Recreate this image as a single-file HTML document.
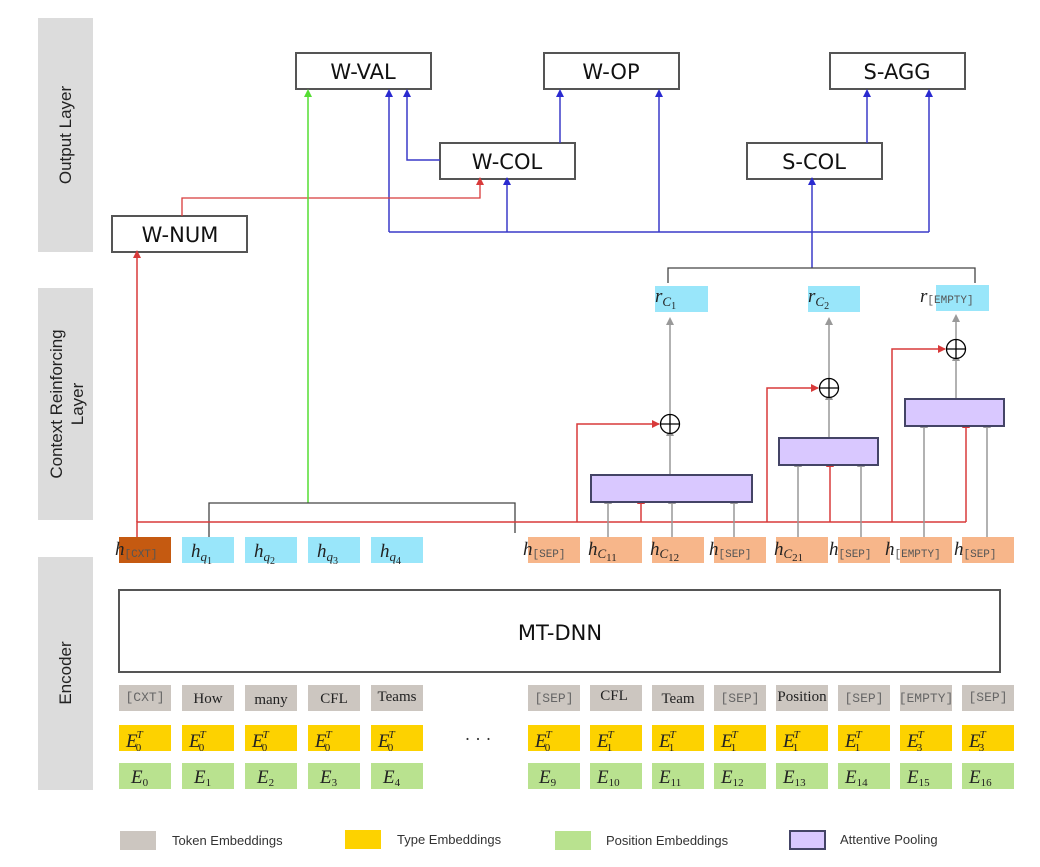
<!DOCTYPE html>
<html><head><meta charset="utf-8"><style>
html,body{margin:0;padding:0;background:#fff;}
svg{display:block;}
.box{fill:#fff;stroke:#555;stroke-width:2;}
.bt{font-family:"DejaVu Sans","Liberation Sans",sans-serif;font-size:21px;fill:#111;text-anchor:middle;}
.m{font-family:"Liberation Serif",serif;font-style:italic;font-size:19px;fill:#222;}
.mono{font-family:"Liberation Mono",monospace;font-size:11px;font-style:normal;fill:#555;}
.tok{font-family:"Liberation Serif",serif;font-size:15px;fill:#222;text-anchor:middle;}
.tokm{font-family:"Liberation Mono",monospace;font-size:13px;fill:#666;text-anchor:middle;}
.lg{font-family:"Liberation Sans",sans-serif;font-size:13px;fill:#333;}
.side{font-family:"Liberation Sans",sans-serif;font-size:17px;fill:#222;text-anchor:middle;}
</style></head><body>
<svg width="1040" height="867" viewBox="0 0 1040 867" xmlns="http://www.w3.org/2000/svg">
<defs>
<marker id="ab" markerWidth="8" markerHeight="8" refX="4" refY="7" markerUnits="userSpaceOnUse"><path d="M0,8 L4,0 L8,8 Z" fill="#2a2ad0"/></marker>
<marker id="ar" markerWidth="8" markerHeight="8" refX="4" refY="7" markerUnits="userSpaceOnUse"><path d="M0,8 L4,0 L8,8 Z" fill="#d83a3a"/></marker>
<marker id="arr" markerWidth="8" markerHeight="8" refX="7" refY="4" markerUnits="userSpaceOnUse"><path d="M0,0 L8,4 L0,8 Z" fill="#d83a3a"/></marker>
<marker id="ag" markerWidth="8" markerHeight="8" refX="4" refY="7" markerUnits="userSpaceOnUse"><path d="M0,8 L4,0 L8,8 Z" fill="#55dd33"/></marker>
<marker id="agr" markerWidth="8" markerHeight="8" refX="4" refY="7" markerUnits="userSpaceOnUse"><path d="M0,8 L4,0 L8,8 Z" fill="#999"/></marker>
</defs>

<rect x="38" y="18" width="55" height="234" fill="#dcdcdc"/>
<rect x="38" y="288" width="55" height="232" fill="#dcdcdc"/>
<rect x="38" y="557" width="55" height="233" fill="#dcdcdc"/>
<text class="side" transform="translate(71,135) rotate(-90)">Output Layer</text>
<text class="side" transform="translate(62,404) rotate(-90)">Context Reinforcing</text>
<text class="side" transform="translate(83,404) rotate(-90)">Layer</text>
<text class="side" transform="translate(71,673) rotate(-90)">Encoder</text>

<rect class="box" x="296" y="53" width="135" height="36"/><text class="bt" x="363" y="79">W-VAL</text>
<rect class="box" x="544" y="53" width="135" height="36"/><text class="bt" x="611" y="79">W-OP</text>
<rect class="box" x="830" y="53" width="135" height="36"/><text class="bt" x="897" y="79">S-AGG</text>
<rect class="box" x="440" y="143" width="135" height="36"/><text class="bt" x="507" y="169">W-COL</text>
<rect class="box" x="747" y="143" width="135" height="36"/><text class="bt" x="814" y="169">S-COL</text>
<rect class="box" x="112" y="216" width="135" height="36"/><text class="bt" x="180" y="242">W-NUM</text>

<g stroke="#3a3ac8" stroke-width="1.5" fill="none">
<path d="M389,232 H929"/>
<path d="M389,232 V96" marker-end="url(#ab)"/>
<path d="M507,232 V184" marker-end="url(#ab)"/>
<path d="M659,232 V96" marker-end="url(#ab)"/>
<path d="M929,232 V96" marker-end="url(#ab)"/>
<path d="M440,160 H407 V96" marker-end="url(#ab)"/>
<path d="M560,143 V96" marker-end="url(#ab)"/>
<path d="M867,143 V96" marker-end="url(#ab)"/>
<path d="M812,268 V184" marker-end="url(#ab)"/>
</g>
<path d="M182,216 V198 H480 V184" stroke="#d83a3a" stroke-width="1.3" fill="none" marker-end="url(#ar)"/>
<path d="M308,503 V96" stroke="#55dd33" stroke-width="1.5" fill="none" marker-end="url(#ag)"/>

<g stroke="#444" stroke-width="1.3" fill="none">
<path d="M668,283 V268 H975 V283"/>
<path d="M209,537 V503 H515 V533"/>
</g>

<g stroke="#d83a3a" stroke-width="1.5" fill="none">
<path d="M137,537 V522 H966"/>
<path d="M137,522 V257" marker-end="url(#ar)"/>
<path d="M577,522 V424 H659" marker-end="url(#arr)"/>
<path d="M767,522 V388 H818" marker-end="url(#arr)"/>
<path d="M892,522 V349 H945" marker-end="url(#arr)"/>
<path d="M641,522 V503" marker-end="url(#ar)"/>
<path d="M830,522 V466" marker-end="url(#ar)"/>
<path d="M966,522 V427" marker-end="url(#ar)"/>
</g>

<g stroke="#999" stroke-width="1.5" fill="none">
<path d="M608,537 V503" marker-end="url(#agr)"/>
<path d="M672,537 V503" marker-end="url(#agr)"/>
<path d="M734,537 V503" marker-end="url(#agr)"/>
<path d="M798,537 V466" marker-end="url(#agr)"/>
<path d="M861,537 V466" marker-end="url(#agr)"/>
<path d="M924,537 V427" marker-end="url(#agr)"/>
<path d="M987,537 V427" marker-end="url(#agr)"/>
<path d="M670,475 V435" marker-end="url(#agr)"/>
<path d="M829,438 V399" marker-end="url(#agr)"/>
<path d="M956,399 V360" marker-end="url(#agr)"/>
<path d="M670,414 V324" marker-end="url(#agr)"/>
<path d="M829,378 V324" marker-end="url(#agr)"/>
<path d="M956,339 V321" marker-end="url(#agr)"/>
</g>

<g fill="#d9c8ff" stroke="#444466" stroke-width="2">
<rect x="591" y="475" width="161" height="27"/>
<rect x="779" y="438" width="99" height="27"/>
<rect x="905" y="399" width="99" height="27"/>
</g>
<g stroke="#000" stroke-width="1.3" fill="#fff">
<circle cx="670" cy="424" r="9.5"/><path d="M660.5,424 H679.5 M670,414.5 V433.5"/>
<circle cx="829" cy="388" r="9.5"/><path d="M819.5,388 H838.5 M829,378.5 V397.5"/>
<circle cx="956" cy="349" r="9.5"/><path d="M946.5,349 H965.5 M956,339.5 V358.5"/>
</g>

<rect x="655" y="286" width="53" height="26" fill="#99e6fa"/>
<rect x="808" y="286" width="52" height="26" fill="#99e6fa"/>
<rect x="936" y="285" width="53" height="26" fill="#99e6fa"/>
<text class="m" x="655" y="302" font-size="16">r<tspan font-size="13" dy="4">C</tspan><tspan font-size="10" dy="3" font-style="normal">1</tspan></text>
<text class="m" x="808" y="302" font-size="16">r<tspan font-size="13" dy="4">C</tspan><tspan font-size="10" dy="3" font-style="normal">2</tspan></text>
<text class="m" x="920" y="302" font-size="16">r<tspan class="mono" dy="1">[EMPTY]</tspan></text>

<rect x="119" y="537" width="52" height="26" fill="#c55a11"/>
<g fill="#99e6fa">
<rect x="182" y="537" width="52" height="26"/><rect x="245" y="537" width="52" height="26"/>
<rect x="308" y="537" width="52" height="26"/><rect x="371" y="537" width="52" height="26"/>
</g>
<g fill="#f7b68a">
<rect x="528" y="537" width="52" height="26"/><rect x="590" y="537" width="52" height="26"/>
<rect x="652" y="537" width="52" height="26"/><rect x="714" y="537" width="52" height="26"/>
<rect x="776" y="537" width="52" height="26"/><rect x="838" y="537" width="52" height="26"/>
<rect x="900" y="537" width="52" height="26"/><rect x="962" y="537" width="52" height="26"/>
</g>
<g class="m" font-size="17">
<text x="115" y="555">h<tspan class="mono" dy="2">[CXT]</tspan></text>
<text x="191" y="557">h<tspan font-size="13" dy="4">q</tspan><tspan font-size="10" dy="3" font-style="normal">1</tspan></text>
<text x="254" y="557">h<tspan font-size="13" dy="4">q</tspan><tspan font-size="10" dy="3" font-style="normal">2</tspan></text>
<text x="317" y="557">h<tspan font-size="13" dy="4">q</tspan><tspan font-size="10" dy="3" font-style="normal">3</tspan></text>
<text x="380" y="557">h<tspan font-size="13" dy="4">q</tspan><tspan font-size="10" dy="3" font-style="normal">4</tspan></text>
<text x="523" y="555">h<tspan class="mono" dy="2">[SEP]</tspan></text>
<text x="588" y="555">h<tspan font-size="13" dy="3">C</tspan><tspan font-size="11" dy="3" font-style="normal">11</tspan></text>
<text x="650" y="555">h<tspan font-size="13" dy="3">C</tspan><tspan font-size="11" dy="3" font-style="normal">12</tspan></text>
<text x="709" y="555">h<tspan class="mono" dy="2">[SEP]</tspan></text>
<text x="774" y="555">h<tspan font-size="13" dy="3">C</tspan><tspan font-size="11" dy="3" font-style="normal">21</tspan></text>
<text x="829" y="555">h<tspan class="mono" dy="2">[SEP]</tspan></text>
<text x="885" y="555">h<tspan class="mono" dy="2">[EMPTY]</tspan></text>
<text x="954" y="555">h<tspan class="mono" dy="2">[SEP]</tspan></text>
</g>

<rect x="119" y="590" width="881" height="82" fill="#fff" stroke="#555" stroke-width="2"/>
<text class="bt" x="560" y="640" font-size="23">MT-DNN</text>

<g fill="#ccc6c0">
<rect x="119" y="685" width="52" height="26"/><rect x="182" y="685" width="52" height="26"/><rect x="245" y="685" width="52" height="26"/><rect x="308" y="685" width="52" height="26"/><rect x="371" y="685" width="52" height="26"/>
<rect x="528" y="685" width="52" height="26"/><rect x="590" y="685" width="52" height="26"/><rect x="652" y="685" width="52" height="26"/><rect x="714" y="685" width="52" height="26"/><rect x="776" y="685" width="52" height="26"/><rect x="838" y="685" width="52" height="26"/><rect x="900" y="685" width="52" height="26"/><rect x="962" y="685" width="52" height="26"/>
</g>
<g fill="#fdd200">
<rect x="119" y="725" width="52" height="26"/><rect x="182" y="725" width="52" height="26"/><rect x="245" y="725" width="52" height="26"/><rect x="308" y="725" width="52" height="26"/><rect x="371" y="725" width="52" height="26"/>
<rect x="528" y="725" width="52" height="26"/><rect x="590" y="725" width="52" height="26"/><rect x="652" y="725" width="52" height="26"/><rect x="714" y="725" width="52" height="26"/><rect x="776" y="725" width="52" height="26"/><rect x="838" y="725" width="52" height="26"/><rect x="900" y="725" width="52" height="26"/><rect x="962" y="725" width="52" height="26"/>
</g>
<g fill="#b9e28f">
<rect x="119" y="763" width="52" height="26"/><rect x="182" y="763" width="52" height="26"/><rect x="245" y="763" width="52" height="26"/><rect x="308" y="763" width="52" height="26"/><rect x="371" y="763" width="52" height="26"/>
<rect x="528" y="763" width="52" height="26"/><rect x="590" y="763" width="52" height="26"/><rect x="652" y="763" width="52" height="26"/><rect x="714" y="763" width="52" height="26"/><rect x="776" y="763" width="52" height="26"/><rect x="838" y="763" width="52" height="26"/><rect x="900" y="763" width="52" height="26"/><rect x="962" y="763" width="52" height="26"/>
</g>
<text class="tokm" x="145" y="701">[CXT]</text>
<text class="tok" x="208" y="703">How</text>
<text class="tok" x="271" y="704">many</text>
<text class="tok" x="334" y="703">CFL</text>
<text class="tok" x="397" y="701">Teams</text>
<text class="tokm" x="554" y="702">[SEP]</text>
<text class="tok" x="614" y="700">CFL</text>
<text class="tok" x="678" y="703">Team</text>
<text class="tokm" x="740" y="702">[SEP]</text>
<text class="tok" x="802" y="701">Position</text>
<text class="tokm" x="864" y="702">[SEP]</text>
<text class="tokm" x="926" y="702">[EMPTY]</text>
<text class="tokm" x="988" y="701">[SEP]</text>

<g class="m" font-size="18">
<text x="126" y="747">E<tspan font-size="11" dx="-1" dy="-9">T</tspan><tspan font-size="11" dx="-7" dy="13" font-style="normal">0</tspan></text>
<text x="189" y="747">E<tspan font-size="11" dx="-1" dy="-9">T</tspan><tspan font-size="11" dx="-7" dy="13" font-style="normal">0</tspan></text>
<text x="252" y="747">E<tspan font-size="11" dx="-1" dy="-9">T</tspan><tspan font-size="11" dx="-7" dy="13" font-style="normal">0</tspan></text>
<text x="315" y="747">E<tspan font-size="11" dx="-1" dy="-9">T</tspan><tspan font-size="11" dx="-7" dy="13" font-style="normal">0</tspan></text>
<text x="378" y="747">E<tspan font-size="11" dx="-1" dy="-9">T</tspan><tspan font-size="11" dx="-7" dy="13" font-style="normal">0</tspan></text>
<text x="535" y="747">E<tspan font-size="11" dx="-1" dy="-9">T</tspan><tspan font-size="11" dx="-7" dy="13" font-style="normal">0</tspan></text>
<text x="597" y="747">E<tspan font-size="11" dx="-1" dy="-9">T</tspan><tspan font-size="11" dx="-7" dy="13" font-style="normal">1</tspan></text>
<text x="659" y="747">E<tspan font-size="11" dx="-1" dy="-9">T</tspan><tspan font-size="11" dx="-7" dy="13" font-style="normal">1</tspan></text>
<text x="721" y="747">E<tspan font-size="11" dx="-1" dy="-9">T</tspan><tspan font-size="11" dx="-7" dy="13" font-style="normal">1</tspan></text>
<text x="783" y="747">E<tspan font-size="11" dx="-1" dy="-9">T</tspan><tspan font-size="11" dx="-7" dy="13" font-style="normal">1</tspan></text>
<text x="845" y="747">E<tspan font-size="11" dx="-1" dy="-9">T</tspan><tspan font-size="11" dx="-7" dy="13" font-style="normal">1</tspan></text>
<text x="907" y="747">E<tspan font-size="11" dx="-1" dy="-9">T</tspan><tspan font-size="11" dx="-7" dy="13" font-style="normal">3</tspan></text>
<text x="969" y="747">E<tspan font-size="11" dx="-1" dy="-9">T</tspan><tspan font-size="11" dx="-7" dy="13" font-style="normal">3</tspan></text>
</g>
<text x="478" y="745" font-family="Liberation Serif,serif" font-size="18" fill="#333" text-anchor="middle">· · ·</text>

<g class="m" font-size="18">
<text x="131" y="783">E<tspan font-size="11" dy="3" font-style="normal">0</tspan></text>
<text x="194" y="783">E<tspan font-size="11" dy="3" font-style="normal">1</tspan></text>
<text x="257" y="783">E<tspan font-size="11" dy="3" font-style="normal">2</tspan></text>
<text x="320" y="783">E<tspan font-size="11" dy="3" font-style="normal">3</tspan></text>
<text x="383" y="783">E<tspan font-size="11" dy="3" font-style="normal">4</tspan></text>
<text x="539" y="783">E<tspan font-size="11" dy="3" font-style="normal">9</tspan></text>
<text x="597" y="783">E<tspan font-size="11" dy="3" font-style="normal">10</tspan></text>
<text x="659" y="783">E<tspan font-size="11" dy="3" font-style="normal">11</tspan></text>
<text x="721" y="783">E<tspan font-size="11" dy="3" font-style="normal">12</tspan></text>
<text x="783" y="783">E<tspan font-size="11" dy="3" font-style="normal">13</tspan></text>
<text x="845" y="783">E<tspan font-size="11" dy="3" font-style="normal">14</tspan></text>
<text x="907" y="783">E<tspan font-size="11" dy="3" font-style="normal">15</tspan></text>
<text x="969" y="783">E<tspan font-size="11" dy="3" font-style="normal">16</tspan></text>
</g>

<rect x="120" y="831" width="36" height="19" fill="#ccc6c0"/><text class="lg" x="172" y="845">Token Embeddings</text>
<rect x="345" y="830" width="36" height="19" fill="#fdd200"/><text class="lg" x="397" y="844">Type Embeddings</text>
<rect x="555" y="831" width="36" height="19" fill="#b9e28f"/><text class="lg" x="606" y="845">Position Embeddings</text>
<rect x="790" y="831" width="35" height="18" fill="#d9c8ff" stroke="#444466" stroke-width="2"/><text class="lg" x="840" y="844">Attentive Pooling</text>
</svg>
</body></html>
